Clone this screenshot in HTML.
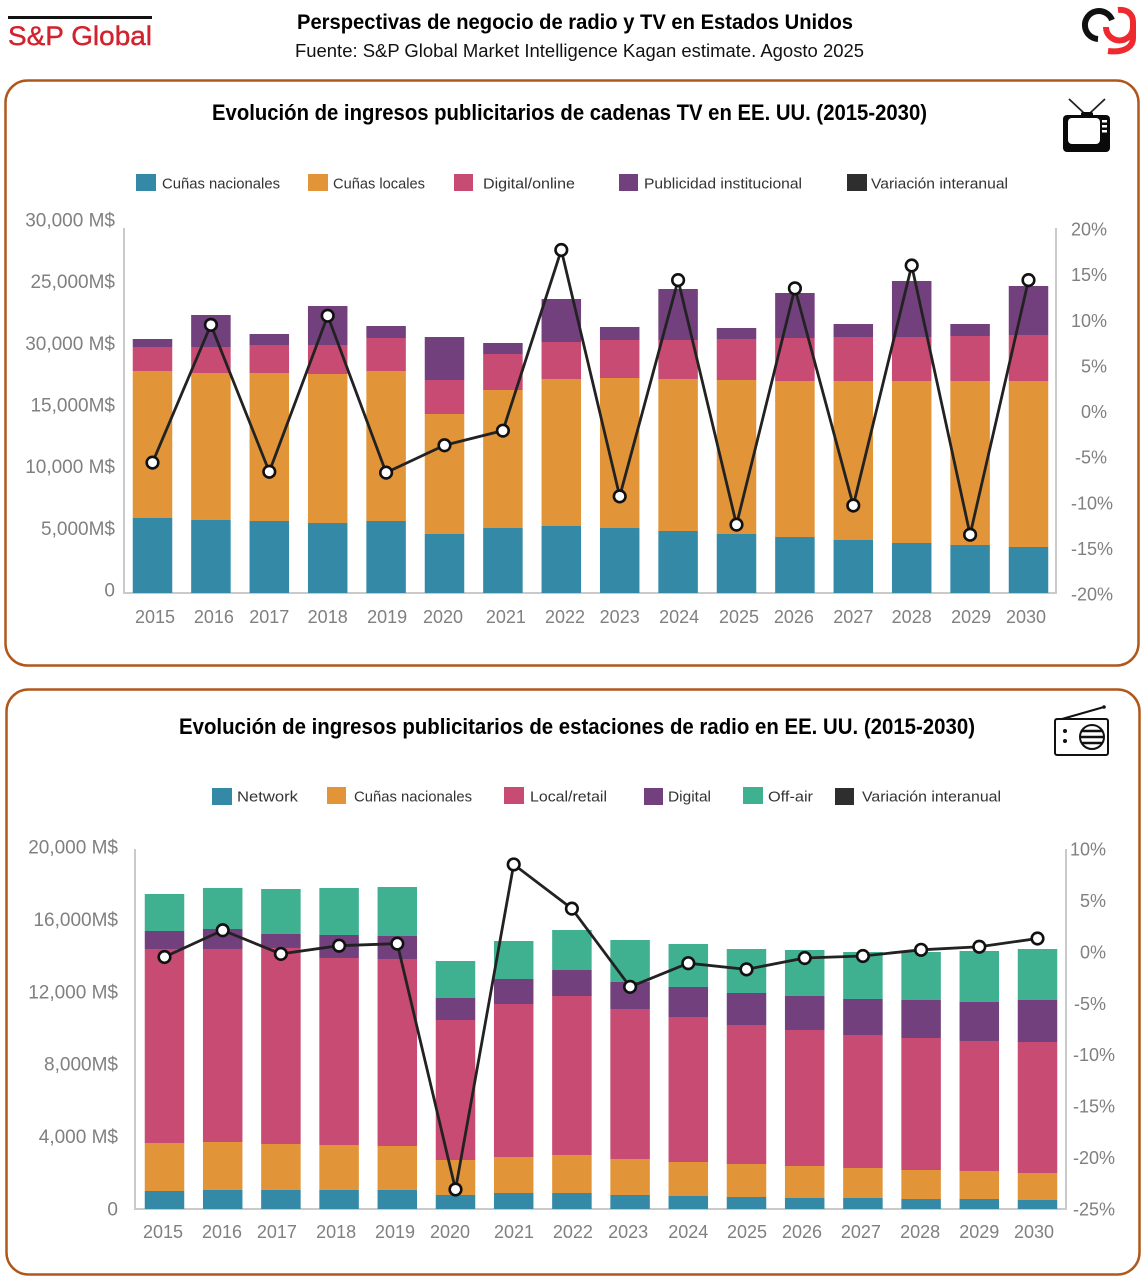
<!DOCTYPE html>
<html lang="es">
<head>
<meta charset="utf-8">
<title>Perspectivas de negocio de radio y TV en Estados Unidos</title>
<style>
html,body{margin:0;padding:0;background:#fff;}
svg{display:block;font-family:"Liberation Sans",sans-serif;}
.tick{fill:#808080;font-size:18px;}
.tick-left{fill:#808080;font-size:19px;}
.leg{fill:#333;font-size:15px;dominant-baseline:central;}
</style>
</head>
<body>
<svg id="root" xmlns="http://www.w3.org/2000/svg" width="1145" height="1282" viewBox="0 0 1145 1282">
  <rect x="0" y="0" width="1145" height="1282" fill="#fff"/>

  <g>
    <rect x="8" y="16" width="144" height="3" fill="#111"/>
    <text x="8" y="45" font-size="27" fill="#d2222d" stroke="#d2222d" stroke-width="0.4" textLength="144" lengthAdjust="spacingAndGlyphs">S&amp;P Global</text>
  </g>
  <text x="297" y="29" font-size="21" font-weight="bold" fill="#000" textLength="556" lengthAdjust="spacingAndGlyphs">Perspectivas de negocio de radio y TV en Estados Unidos</text>
  <text x="295" y="57" font-size="18" fill="#111" textLength="569" lengthAdjust="spacingAndGlyphs">Fuente: S&amp;P Global Market Intelligence Kagan estimate. Agosto 2025</text>

  <g fill="none" stroke-width="6">
    <path d="M1112 20 A14 14 0 1 0 1098 39" stroke="#111"/>
    <path d="M1118 10 C1127 9 1133 14 1133 22 L1133 38 C1133 47 1124 53 1108 51 M1133 27 A13.500 13.500 0 1 1 1106 27" stroke="#ee2a2e"/>
  </g>

  <rect x="5.500" y="80.500" width="1133" height="585" rx="22" fill="none" stroke="#b0581c" stroke-width="2.500"/>
  <rect x="6.500" y="689.500" width="1133" height="585" rx="22" fill="none" stroke="#b0581c" stroke-width="2.500"/>

  <text x="212" y="120" font-size="22" font-weight="bold" fill="#000" textLength="715" lengthAdjust="spacingAndGlyphs">Evolución de ingresos publicitarios de cadenas TV en EE. UU. (2015-2030)</text>
  <text x="179" y="734" font-size="22" font-weight="bold" fill="#000" textLength="796" lengthAdjust="spacingAndGlyphs">Evolución de ingresos publicitarios de estaciones de radio en EE. UU. (2015-2030)</text>

  <g>
    <path d="M1069 99 L1085 114 M1105 99 L1089 114" stroke="#222" stroke-width="1.800" fill="none"/>
    <rect x="1063" y="115" width="47" height="37" rx="4" fill="#0a0a0a"/>
    <rect x="1081" y="112" width="12" height="5" rx="2" fill="#0a0a0a"/>
    <rect x="1068" y="118" width="32" height="26" rx="4" fill="#fff"/>
    <rect x="1102" y="120" width="5" height="2.500" fill="#fff"/>
    <rect x="1102" y="125" width="5" height="2.500" fill="#fff"/>
    <rect x="1102" y="130" width="5" height="2.500" fill="#fff"/>
  </g>

  <g fill="none" stroke="#111">
    <path d="M1062 719 L1104 707" stroke-width="2"/>
    <circle cx="1104" cy="707" r="1.800" fill="#111" stroke="none"/>
    <rect x="1055" y="719" width="53" height="36" rx="2" stroke-width="2"/>
    <circle cx="1092" cy="737" r="12" stroke-width="2"/>
    <path d="M1081 731 H1103 M1080 737 H1104 M1081 743 H1103" stroke-width="2.500"/>
    <circle cx="1065" cy="731" r="2" fill="#111" stroke="none"/>
    <circle cx="1065" cy="741" r="2" fill="#111" stroke="none"/>
  </g>

  <g>
    <g><rect x="136" y="174" width="20" height="17" fill="#348aa6"/><text class="leg" x="162" y="184" textLength="118" lengthAdjust="spacingAndGlyphs">Cuñas nacionales</text></g>
    <g><rect x="308" y="174" width="20" height="17" fill="#e29538"/><text class="leg" x="333" y="184" textLength="92" lengthAdjust="spacingAndGlyphs">Cuñas locales</text></g>
    <g><rect x="454" y="174" width="19" height="17" fill="#c74b73"/><text class="leg" x="483" y="184" textLength="92" lengthAdjust="spacingAndGlyphs">Digital/online</text></g>
    <g><rect x="619" y="174" width="19" height="17" fill="#72407c"/><text class="leg" x="644" y="184" textLength="158" lengthAdjust="spacingAndGlyphs">Publicidad institucional</text></g>
    <g><rect x="847" y="174" width="20" height="17" fill="#2e2e2e"/><text class="leg" x="871" y="184" textLength="137" lengthAdjust="spacingAndGlyphs">Variación interanual</text></g>
  </g>

  <g>
    <g><rect x="212" y="788" width="20" height="17" fill="#348aa6"/><text class="leg" x="237" y="797" textLength="61" lengthAdjust="spacingAndGlyphs">Network</text></g>
    <g><rect x="327" y="787" width="19" height="17" fill="#e29538"/><text class="leg" x="354" y="797" textLength="118" lengthAdjust="spacingAndGlyphs">Cuñas nacionales</text></g>
    <g><rect x="504" y="787" width="20" height="17" fill="#c74b73"/><text class="leg" x="530" y="797" textLength="77" lengthAdjust="spacingAndGlyphs">Local/retail</text></g>
    <g><rect x="644" y="788" width="19" height="17" fill="#72407c"/><text class="leg" x="668" y="797" textLength="43" lengthAdjust="spacingAndGlyphs">Digital</text></g>
    <g><rect x="743" y="787" width="20" height="17" fill="#3fb191"/><text class="leg" x="768" y="797" textLength="45" lengthAdjust="spacingAndGlyphs">Off-air</text></g>
    <g><rect x="835" y="788" width="19" height="17" fill="#2e2e2e"/><text class="leg" x="862" y="797" textLength="139" lengthAdjust="spacingAndGlyphs">Variación interanual</text></g>
  </g>

  <g id="tv-chart"></g>
  <g id="radio-chart"></g>
</svg>

<script>
const years = ['2015','2016','2017','2018','2019','2020','2021','2022','2023','2024','2025','2026','2027','2028','2029','2030'];

const tvNational = [6164,6000,5918,5753,5918,4849,5342,5507,5342,5096,4849,4603,4356,4110,3945,3781];
const tvLocal = [12082,12082,12164,12246,12329,9863,11342,12082,12329,12493,12657,12822,13068,13315,13479,13644];
const tvDigital = [1973,2137,2301,2384,2712,2794,2959,3041,3123,3205,3370,3534,3616,3616,3699,3781];
const tvInstitutional = [658,2630,904,3205,986,3534,904,3534,1068,4192,904,3699,1068,4603,986,4027];
const tvYoY = [-5.6,9.5,-6.6,10.5,-6.7,-3.7,-2.1,17.7,-9.3,14.4,-12.4,13.5,-10.3,16.0,-13.5,14.4];
const tvLeftTicks = [0,5000,10000,15000,20000,25000,30000];
const tvLeftLabels = ['0','5,000M$','10,000 M$','15,000M$','30,000 M$','25,000M$','30,000 M$'];
const tvRightTicks = [-20,-15,-10,-5,0,5,10,15,20];
const tvRightLabels = ['-20%','-15%','-10%','-5%','0%','5%','10%','15%','20%'];

const radioNetwork = [1000,1056,1056,1056,1056,778,889,889,778,722,667,611,611,556,556,500];
const radioNational = [2667,2667,2556,2500,2444,1944,2000,2111,2000,1889,1833,1778,1667,1611,1556,1500];
const radioLocal = [10778,10722,10889,10389,10389,7778,8500,8833,8333,8056,7722,7556,7389,7333,7222,7278];
const radioDigital = [1000,1111,778,1278,1278,1222,1389,1444,1500,1667,1778,1889,2000,2111,2167,2333];
const radioOffAir = [2056,2278,2500,2611,2722,2056,2111,2222,2333,2389,2444,2556,2611,2667,2833,2833];
const radioYoY = [-0.5,2.1,-0.2,0.6,0.8,-23.1,8.5,4.2,-3.4,-1.1,-1.7,-0.6,-0.4,0.2,0.5,1.3];
const radioLeftTicks = [0,4000,8000,12000,16000,20000];
const radioLeftLabels = ['0','4,000 M$','8,000M$','12,000 M$','16,000M$','20,000 M$'];
const radioRightTicks = [-25,-20,-15,-10,-5,0,5,10];
const radioRightLabels = ['-25%','-20%','-15%','-10%','-5%','0%','5%','10%'];

const NS = 'http://www.w3.org/2000/svg';
const TEAL = '#348aa6', ORANGE = '#e29538', PINK = '#c74b73', PURPLE = '#72407c', GREEN = '#3fb191';

function make(parent, tag, attrs) {
  const el = document.createElementNS(NS, tag);
  for (const k in attrs) el.setAttribute(k, attrs[k]);
  parent.appendChild(el);
  return el;
}

function drawChart(root, c) {
  const n = years.length;
  const xBand = i => c.x0 + i * c.step;
  const yLeft = v => c.base - (v / c.leftMax) * (c.base - c.top);
  const yRight = v => c.base + c.rightShift - ((v - c.rightMin) / (c.rightMax - c.rightMin)) * (c.base - c.top);
  const yLeftLabel = v => c.leftLabelBase - (v / c.leftMax) * (c.leftLabelBase - c.leftLabelTop);

  const axes = make(root, 'path', {
    d: 'M' + c.axisL + ' ' + c.top + ' V' + c.base + ' H' + c.axisR + ' V' + c.top,
    fill: 'none', stroke: '#cacaca', 'stroke-width': 2
  });
  
  

  const barsGroup = make(root, 'g', {});
  
  
  for (let i = 0; i < n; i++) {
    let cum = 0;
    c.series.forEach((values, s) => {
      const y1 = yLeft(cum);
      cum += values[i];
      const y2 = yLeft(cum);
      const r = make(barsGroup, 'rect', {
        x: xBand(i) - c.barW / 2, y: y2, width: c.barW, height: y1 - y2, fill: c.colors[s]
      });
      
      
    });
  }

  const pts = c.yoy.map((v, i) => xBand(i) + ',' + yRight(v)).join(' ');
  const line = make(root, 'polyline', {
    points: pts, fill: 'none', stroke: '#222', 'stroke-width': 2.8, 'stroke-linejoin': 'round'
  });
  
  
  c.yoy.forEach((v, i) => {
    const p = make(root, 'circle', {
      cx: xBand(i), cy: yRight(v), r: 5.8, fill: '#fff', stroke: '#111', 'stroke-width': 2.6
    });
    
    
  });

  years.forEach((yr, i) => {
    const t = make(root, 'text', {
      class: 'tick', x: xBand(i) + c.yearNudge[i], y: c.yearY, 'text-anchor': 'middle'
    });
    t.textContent = yr;
    
    
  });

  c.leftTicks.forEach((v, i) => {
    const t = make(root, 'text', {
      class: 'tick-left', x: c.leftLabelX, y: yLeftLabel(v) + 6.5, 'text-anchor': 'end'
    });
    t.textContent = c.leftLabels[i];
    
    
  });

  c.rightTicks.forEach((v, i) => {
    const label = c.rightLabels[i];
    const t = make(root, 'text', {
      class: 'tick', x: label.length > 3 ? c.rightLabelXLong : c.rightLabelX,
      y: yRight(v) + 6.5, 'text-anchor': 'end'
    });
    t.textContent = label;
    
    
  });
}

drawChart(document.getElementById('tv-chart'), {
  series: [tvNational, tvLocal, tvDigital, tvInstitutional],
  colors: [TEAL, ORANGE, PINK, PURPLE],
  keys: ['nacionales', 'locales', 'digital', 'institucional'],
  yoy: tvYoY,
  leftTicks: tvLeftTicks, leftLabels: tvLeftLabels,
  rightTicks: tvRightTicks, rightLabels: tvRightLabels,
  x0: 152.5, step: 58.4, barW: 39.5,
  base: 593, top: 228, axisL: 124, axisR: 1056, rightShift: 1,
  leftMax: 30000, rightMin: -20, rightMax: 20,
  leftLabelBase: 590, leftLabelTop: 220, leftLabelX: 115,
  rightLabelX: 1107, rightLabelXLong: 1113,
  yearY: 623,
  yearNudge: [2.5,3,0,0,1,-1.5,3,3.7,0,1,2.5,-1,0,0,1,-2.5]
});

drawChart(document.getElementById('radio-chart'), {
  series: [radioNetwork, radioNational, radioLocal, radioDigital, radioOffAir],
  colors: [TEAL, ORANGE, PINK, PURPLE, GREEN],
  keys: ['network', 'nacionales', 'local', 'digital', 'offair'],
  yoy: radioYoY,
  leftTicks: radioLeftTicks, leftLabels: radioLeftLabels,
  rightTicks: radioRightTicks, rightLabels: radioRightLabels,
  x0: 164.5, step: 58.2, barW: 39.5,
  base: 1209, top: 849, axisL: 135, axisR: 1066, rightShift: 0,
  leftMax: 20000, rightMin: -25, rightMax: 10,
  leftLabelBase: 1209, leftLabelTop: 847, leftLabelX: 118,
  rightLabelX: 1106, rightLabelXLong: 1115,
  yearY: 1238,
  yearNudge: [-1.5,-0.7,-4,-3,-2.3,-5.5,0.3,1,-2,0,0.5,-2.7,-2,-1,0,-3.5]
});
</script>
</body>
</html>
